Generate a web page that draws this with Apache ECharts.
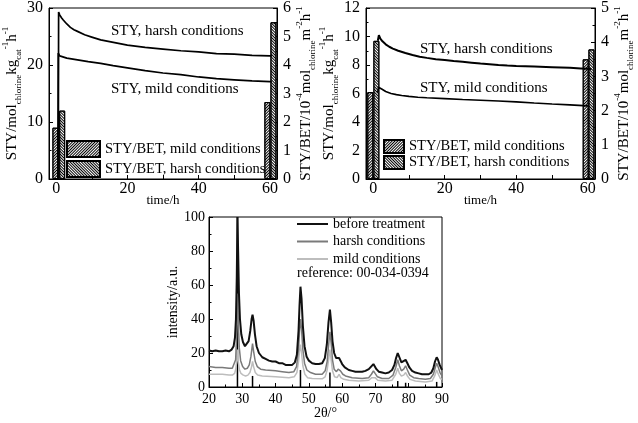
<!DOCTYPE html>
<html>
<head>
<meta charset="utf-8">
<script src="https://cdn.jsdelivr.net/npm/echarts@6/dist/echarts.min.js"></script>
<style>
html,body{margin:0;padding:0;background:#fff;}
#c{width:638px;height:423px;}
</style>
</head>
<body>
<div id="c"></div>
<script>
// ---------- data ----------
const timeLabels = [0, 20, 40, 60];
const timeTicks = [0, 10, 20, 30, 40, 50, 60];

// panel A (left top): STY, left axis
const styHarshA = [[0.6,0],[0.7,29.3],[1.0,28.8],[1.5,28.3],[2,27.9],[3,27.2],[4,26.6],[5,26.2],[6,25.9],[8,25.3],[10,24.9],[12.5,24.4],[15,24.1],[17.5,23.8],[20,23.5],[25,23.1],[30,22.8],[35,22.5],[40,22.3],[45,22.0],[50,21.9],[55,21.7],[60,21.6],[60.5,21.6]];
const styMildA = [[0.5,0],[0.6,22.1],[1,21.6],[1.5,21.4],[3,21.2],[6,20.9],[9,20.6],[12.5,20.3],[16,19.9],[20,19.5],[25,19.0],[30,18.6],[35,18.3],[40,17.9],[45,17.6],[50,17.4],[55,17.2],[60,17.1],[60.5,17.1]];
// panel A: STY/BET bars, right axis
const betMildA = [[-0.2,1.8],[59.3,2.7]];
const betHarshA = [[1.7,2.4],[61.0,5.5]];

// panel B (right top)
const styHarshB = [[1.3,9.7],[1.6,10.1],[2,9.85],[2.6,9.66],[3.5,9.45],[4.5,9.28],[5.5,9.15],[7,9.0],[9,8.84],[11,8.7],[13,8.58],[15,8.5],[17.5,8.41],[20,8.35],[22.5,8.28],[25,8.22],[27.5,8.16],[30,8.1],[32.5,8.05],[35,8.0],[37.5,7.96],[40,7.93],[45,7.89],[50,7.85],[55,7.8],[58,7.76],[60,7.73],[61,7.72]];
const styMildB = [[1.3,6.1],[1.5,6.44],[2.5,6.3],[3.5,6.14],[5,6.0],[6.5,5.92],[8,5.86],[10,5.8],[12.5,5.74],[15,5.7],[20,5.64],[25,5.58],[30,5.53],[35,5.47],[40,5.41],[45,5.33],[50,5.26],[55,5.2],[60,5.13]];
const betMildB = [[-0.8,2.54],[59.4,3.5]];
const betHarshB = [[0.9,4.04],[61.0,3.79]];

// panel C (XRD)
const xrdBefore = [[20,21.5],[21,21],[22,21.5],[23,21],[24,21],[25,21.5],[26,21],[26.8,22],[27.4,24],[27.8,29],[28.1,40],[28.35,65],[28.55,100],[28.75,80],[29.0,55],[29.3,40],[29.7,31],[30.2,26.5],[30.8,24],[31.4,24.5],[31.9,27],[32.4,33],[32.8,40],[33.08,42.5],[33.4,39],[33.8,31],[34.3,24],[35,20],[36,17.5],[37,16.5],[38,15.5],[39,15],[40,15],[41,14],[42,14],[43,13],[44,13],[45,13],[45.8,14.5],[46.4,19],[46.9,33],[47.2,48],[47.48,59],[47.8,52],[48.2,36],[48.7,24],[49.3,18],[50,15.5],[51,14],[52,13.5],[53,13.5],[54,14],[54.8,17],[55.4,25],[55.9,38],[56.33,45.5],[56.7,38],[57.1,27],[57.6,20],[58.2,17],[58.7,17],[59.08,17],[59.5,15.5],[60,13.5],[60.8,11.5],[62,10],[63,9.5],[64,9],[65,9],[66,9],[67,9.5],[68,10.5],[68.7,12],[69.1,13],[69.4,13.5],[69.8,12.5],[70.3,10.5],[71,9],[72,8.5],[73,8],[74,8.5],[75,10],[75.7,13],[76.2,17],[76.7,20],[77.2,17.5],[77.8,14.5],[78.4,14.5],[79.07,16],[79.6,14],[80.2,11.5],[81,9.5],[82,8.5],[83,8],[84,7.5],[85,7.5],[86,7.5],[86.8,8.5],[87.4,11],[87.9,15],[88.4,17.5],[88.8,16],[89.3,13],[90,10]];
const xrdHarsh = [[20,12],[22,11.5],[24,11.5],[26,11],[27,11],[27.6,12],[28.0,16],[28.3,30],[28.55,55],[28.8,38],[29.1,23],[29.5,15.5],[30.1,12],[30.8,10.5],[31.5,11],[32.1,13],[32.6,18],[33.08,25.5],[33.4,21],[33.9,15],[34.5,12],[35.5,10.5],[37,10],[40,9.5],[42,9],[44,8.5],[45.5,9],[46.3,12],[46.9,22],[47.2,33],[47.48,40],[47.8,34],[48.2,22],[48.7,14],[49.4,10],[50.5,8.5],[52,7.5],[54,7.5],[54.9,9.5],[55.5,15],[56.0,26],[56.33,32.5],[56.7,26],[57.1,16],[57.6,10.5],[58.3,9],[58.8,10.5],[59.08,11],[59.5,9.5],[60.2,7.5],[61,6.5],[63,5.5],[66,5],[68,5.5],[68.8,7.5],[69.4,9.5],[69.9,8],[70.6,6],[72,5],[74,5],[75.3,7],[76.1,11.5],[76.7,16],[77.2,12.5],[77.8,9.5],[78.5,10.5],[79.07,12.5],[79.6,10],[80.3,7],[81.5,5.5],[83,5],[85,4.5],[86.5,5],[87.4,7.5],[88.0,11.5],[88.4,14],[88.8,12],[89.4,8.5],[90,6.5]];
const xrdMild = [[20,7.5],[22,7.5],[24,7.5],[26,7],[27,7],[27.7,8],[28.1,11],[28.35,16],[28.55,22],[28.8,15],[29.1,10.5],[29.6,8],[30.3,7],[31,6.5],[31.7,7],[32.3,8.5],[32.8,12],[33.08,15],[33.4,12],[33.9,8.5],[34.6,7],[36,6.5],[40,6],[44,5.5],[45.6,6],[46.4,8.5],[46.9,15],[47.2,21],[47.48,25],[47.8,20],[48.2,12.5],[48.8,7.5],[49.6,5.5],[51,5],[54,4.8],[54.9,6],[55.5,10],[56.0,17],[56.33,22],[56.7,16],[57.1,9.5],[57.7,6],[58.5,5.5],[59.08,7.5],[59.6,5.5],[60.5,4.5],[62,4],[65,3.5],[68,4],[68.9,5.5],[69.4,6.5],[69.9,5.5],[70.7,4],[73,3.5],[75,4],[76.1,7.5],[76.7,11],[77.2,8],[77.8,6.5],[78.5,7],[79.07,8.5],[79.6,6.5],[80.4,4.5],[82,3.5],[85,3],[87,3.5],[87.8,6.5],[88.4,10],[88.9,7.5],[89.5,5],[90,4.5]];
const xrdReference = [[28.55,100],[33.08,6.5],[47.48,10],[56.33,8.5],[76.7,3.5],[79.07,2.5],[88.4,3]];

// ---------- styles ----------
const FONT = '"Liberation Serif", "Times New Roman", serif';
const nameRich = {
  m: {fontSize: 15, lineHeight: 22, verticalAlign: 'middle', fontFamily: FONT, color: '#000'},
  s: {fontSize: 9, lineHeight: 9, verticalAlign: 'bottom', fontFamily: FONT, color: '#000'},
  p: {fontSize: 9, lineHeight: 9, verticalAlign: 'top', fontFamily: FONT, color: '#000'}
};
const hatchMild = {symbol: 'rect', symbolSize: 1, dashArrayX: [1, 0], dashArrayY: [1, 1], rotation: -Math.PI / 4, color: '#000'};
const hatchHarsh = {symbol: 'rect', symbolSize: 1, dashArrayX: [1, 0], dashArrayY: [1, 1], rotation: Math.PI / 4, color: '#000'};

function timeAxis(gridIndex) {
  return {
    type: 'value', gridIndex: gridIndex, min: -2, max: 62,
    name: 'time/h', nameLocation: 'middle', nameGap: 15, nameMoveOverlap: false,
    nameTextStyle: {fontFamily: FONT, fontSize: 13, color: '#000'},
    axisLine: {show: true, onZero: false, lineStyle: {color: '#000', width: 1}},
    axisTick: {show: true, inside: true, length: 4, customValues: timeTicks, lineStyle: {color: '#000'}},
    axisLabel: {customValues: timeLabels, margin: 2, fontFamily: FONT, fontSize: 16, color: '#000'},
    splitLine: {show: false}
  };
}
function leftAxis(gridIndex, max, interval, gap) {
  return {
    type: 'value', gridIndex: gridIndex, position: 'left', min: 0, max: max, interval: interval,
    name: '{m|STY/mol}{s|chlorine}{m|kg}{s|cat}{p|-1}{m|h}{p|-1}',
    nameLocation: 'middle', nameRotate: 90, nameGap: gap,
    nameTextStyle: {rich: nameRich},
    axisLine: {show: true, onZero: false, lineStyle: {color: '#000'}},
    axisTick: {show: true, inside: true, length: 4, lineStyle: {color: '#000'}},
    minorTick: {show: true, splitNumber: 2, length: 2.5, lineStyle: {color: '#000'}},
    axisLabel: {margin: 6, fontFamily: FONT, fontSize: 16, color: '#000'},
    splitLine: {show: false}
  };
}
function rightAxis(gridIndex, max, gap) {
  return {
    type: 'value', gridIndex: gridIndex, position: 'right', min: 0, max: max, interval: 1,
    name: '{m|STY/BET/10}{p|-4}{m|mol}{s|chlorine}{m|m}{p|-2}{m|h}{p|-1}',
    nameLocation: 'middle', nameRotate: 90, nameGap: gap,
    nameTextStyle: {rich: nameRich},
    axisLine: {show: true, onZero: false, lineStyle: {color: '#000'}},
    axisTick: {show: true, inside: true, length: 4, lineStyle: {color: '#000'}},
    minorTick: {show: true, splitNumber: 2, length: 2.5, lineStyle: {color: '#000'}},
    axisLabel: {margin: 6, fontFamily: FONT, fontSize: 16, color: '#000'},
    splitLine: {show: false}
  };
}
function lineSeries(name, data, xi, yi, color, width) {
  return {type: 'line', name: name, xAxisIndex: xi, yAxisIndex: yi, data: data,
    symbol: 'none', showSymbol: false, smooth: false, z: 5,
    lineStyle: {color: color, width: width}, itemStyle: {color: color}};
}
function barSeries(name, data, xi, yi, decal) {
  return {type: 'bar', name: name, xAxisIndex: xi, yAxisIndex: yi, data: data,
    barWidth: 6, barGap: '-100%', z: 2,
    itemStyle: {color: '#fff', borderColor: '#000', borderWidth: 1, decal: decal}};
}

const chart = echarts.init(document.getElementById('c'), null, {renderer: 'canvas'});
chart.setOption({
  animation: false,
  backgroundColor: '#fff',
  textStyle: {fontFamily: FONT, color: '#000'},
  grid: [
    {left: 49, top: 8, width: 228, height: 171, show: true, borderColor: '#000', borderWidth: 1, backgroundColor: 'transparent'},
    {left: 366, top: 8, width: 229, height: 171, show: true, borderColor: '#000', borderWidth: 1, backgroundColor: 'transparent'},
    {left: 209, top: 217, width: 233, height: 170, show: true, borderColor: '#000', borderWidth: 1, backgroundColor: 'transparent'}
  ],
  xAxis: [
    timeAxis(0),
    timeAxis(1),
    {
      type: 'value', gridIndex: 2, min: 20, max: 90, interval: 10,
      name: '2θ/°', nameLocation: 'middle', nameGap: 19, nameMoveOverlap: false,
      nameTextStyle: {fontFamily: FONT, fontSize: 14, color: '#000'},
      axisLine: {show: true, onZero: false, lineStyle: {color: '#000'}},
      axisTick: {show: true, inside: true, length: 4, lineStyle: {color: '#000'}},
      minorTick: {show: true, splitNumber: 2, length: 2.5, lineStyle: {color: '#000'}},
      axisLabel: {margin: 5, fontFamily: FONT, fontSize: 14, color: '#000'},
      splitLine: {show: false}
    }
  ],
  yAxis: [
    leftAxis(0, 30, 10, 25),
    rightAxis(0, 6, 13),
    leftAxis(1, 12, 2, 24),
    rightAxis(1, 5, 11),
    {
      type: 'value', gridIndex: 2, min: 0, max: 100, interval: 20,
      name: 'intensity/a.u.', nameLocation: 'middle', nameRotate: 90, nameGap: 28,
      nameTextStyle: {fontFamily: FONT, fontSize: 14, color: '#000'},
      axisLine: {show: true, onZero: false, lineStyle: {color: '#000'}},
      axisTick: {show: true, inside: true, length: 4, lineStyle: {color: '#000'}},
      minorTick: {show: true, splitNumber: 2, length: 2.5, lineStyle: {color: '#000'}},
      axisLabel: {margin: 4, fontFamily: FONT, fontSize: 14, color: '#000'},
      splitLine: {show: false}
    }
  ],
  legend: [
    {left: 66, top: 140, padding: 0, orient: 'vertical', icon: 'rect', itemWidth: 33, itemHeight: 16, itemGap: 2,
     data: ['STY/BET, mild conditions', 'STY/BET, harsh conditions'],
     textStyle: {fontFamily: FONT, fontSize: 14.5, color: '#000'}, selectedMode: false},
    {left: 383, top: 139, padding: 0, orient: 'vertical', icon: 'rect', itemWidth: 20, itemHeight: 13, itemGap: 1,
     data: ['STY/BET, mild conditions', 'STY/BET, harsh conditions'],
     textStyle: {fontFamily: FONT, fontSize: 14.5, color: '#000'}, selectedMode: false},
    {left: 297, top: 217, padding: 0, orient: 'vertical', icon: 'rect', itemWidth: 31, itemHeight: 2, itemGap: 3.5,
     data: ['before treatment', 'harsh conditions', 'mild conditions'],
     textStyle: {fontFamily: FONT, fontSize: 14, color: '#000'}, selectedMode: false}
  ],
  graphic: [
    {type: 'text', left: 111, top: 24, style: {text: 'STY, harsh conditions', font: '15px ' + FONT, fill: '#000'}},
    {type: 'text', left: 111, top: 82, style: {text: 'STY, mild conditions', font: '15px ' + FONT, fill: '#000'}},
    {type: 'text', left: 420, top: 42, style: {text: 'STY, harsh conditions', font: '15px ' + FONT, fill: '#000'}},
    {type: 'text', left: 420, top: 81, style: {text: 'STY, mild conditions', font: '15px ' + FONT, fill: '#000'}},
    {type: 'text', left: 297, top: 266, style: {text: 'reference: 00-034-0394', font: '14px ' + FONT, fill: '#000'}}
  ],
  series: [
    barSeries('STY/BET, mild conditions', betMildA, 0, 1, hatchMild),
    barSeries('STY/BET, harsh conditions', betHarshA, 0, 1, hatchHarsh),
    lineSeries('STY, harsh conditions', styHarshA, 0, 0, '#000', 1.7),
    lineSeries('STY, mild conditions', styMildA, 0, 0, '#000', 1.7),

    barSeries('STY/BET, mild conditions', betMildB, 1, 3, hatchMild),
    barSeries('STY/BET, harsh conditions', betHarshB, 1, 3, hatchHarsh),
    lineSeries('STY, harsh conditions', styHarshB, 1, 2, '#000', 2),
    lineSeries('STY, mild conditions', styMildB, 1, 2, '#000', 1.6),

    {type: 'bar', name: 'reference: 00-034-0394', xAxisIndex: 2, yAxisIndex: 4, data: xrdReference,
     barWidth: 1.5, itemStyle: {color: '#000'}, z: 1},
    lineSeries('mild conditions', xrdMild, 2, 4, '#bdbdbd', 1.5),
    lineSeries('harsh conditions', xrdHarsh, 2, 4, '#7a7a7a', 1.5),
    lineSeries('before treatment', xrdBefore, 2, 4, '#111', 2)
  ]
});
</script>
</body>
</html>
